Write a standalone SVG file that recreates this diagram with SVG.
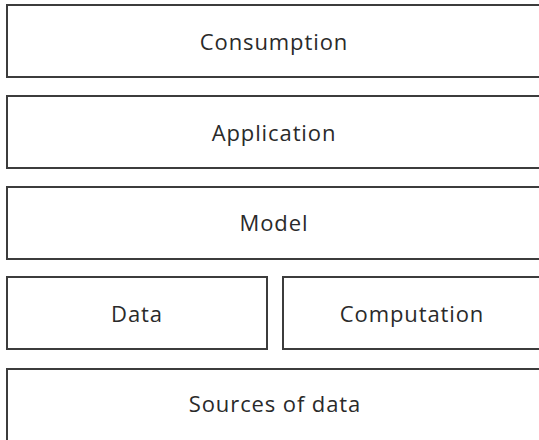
<svg xmlns="http://www.w3.org/2000/svg" width="539" height="440" viewBox="0 0 539 440">
  <style>
    .layer rect { fill: #ffffff; stroke: #3c3c3c; stroke-width: 2; }
    .layer text { font-family: "Open Sans", "Liberation Sans", sans-serif; font-size: 22px; letter-spacing: 0.9px; fill: #2a2a2a; text-anchor: middle; }
  </style>
  <rect width="539" height="440" fill="#ffffff"/>
  <g id="consumption" class="layer">
    <rect x="7" y="5" width="540" height="72"/>
    <text x="274" y="50">Consumption</text>
  </g>
  <g id="application" class="layer">
    <rect x="7" y="96" width="540" height="72"/>
    <text x="274" y="141">Application</text>
  </g>
  <g id="model" class="layer">
    <rect x="7" y="187" width="540" height="72"/>
    <text x="274" y="231">Model</text>
  </g>
  <g id="data" class="layer">
    <rect x="7" y="277" width="260" height="72"/>
    <text x="137" y="322">Data</text>
  </g>
  <g id="computation" class="layer">
    <rect x="283" y="277" width="264" height="72"/>
    <text x="412" y="322">Computation</text>
  </g>
  <g id="sources" class="layer">
    <rect x="7" y="369" width="540" height="72"/>
    <text x="275" y="412">Sources of data</text>
  </g>
  <g id="connectors"/>
</svg>
